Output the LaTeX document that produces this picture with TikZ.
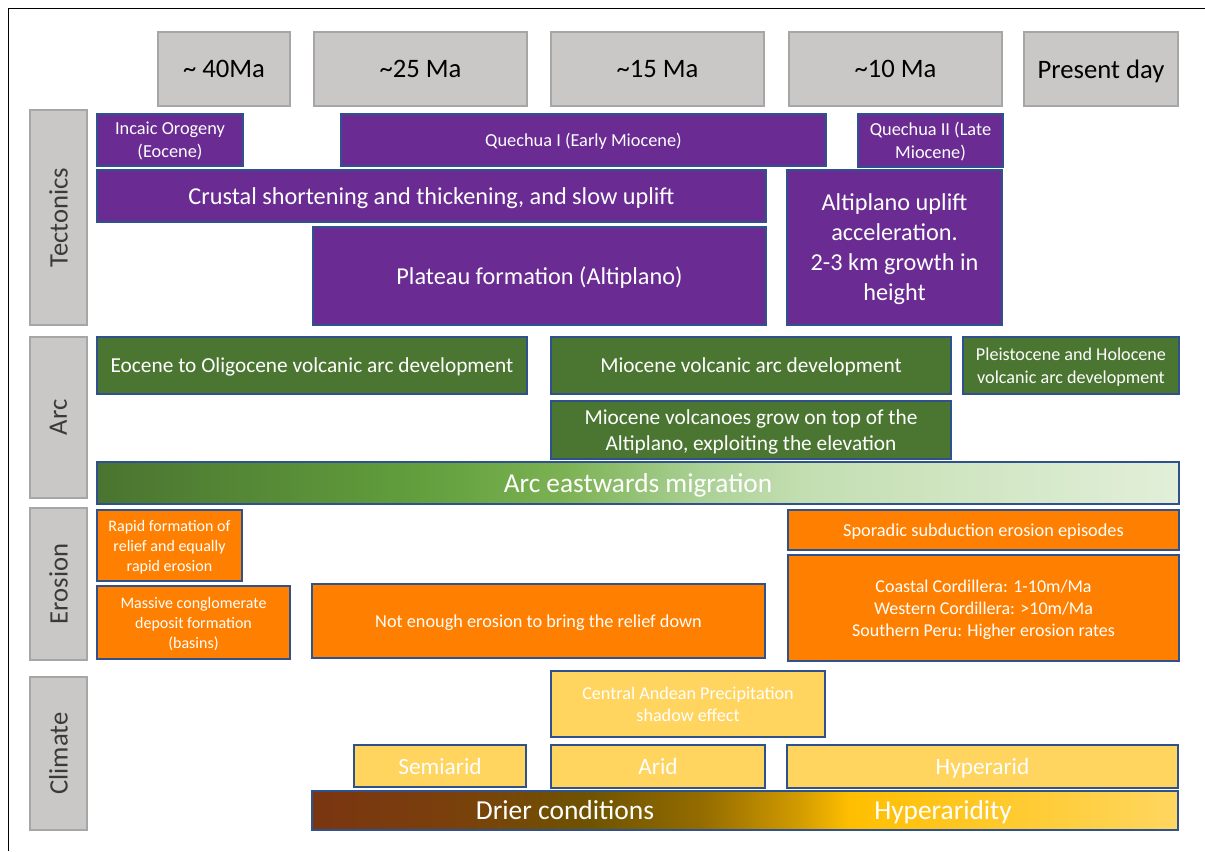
\documentclass[tikz,border=0pt]{standalone}
\usepackage{fontspec}
\setmainfont{Carlito}
\definecolor{purp}{HTML}{6A2B92}
\definecolor{grn}{HTML}{4B7631}
\definecolor{org}{HTML}{FF8000}
\definecolor{yel}{HTML}{FFD45F}
\definecolor{outl}{HTML}{2F528F}
\definecolor{grayF}{HTML}{C9C8C7}
\definecolor{grayB}{HTML}{A6A6A6}
\definecolor{sidetext}{HTML}{3A3A3A}
% arc gradient colours
\definecolor{ga}{HTML}{4A7430}
\definecolor{gb}{HTML}{629F3D}
\definecolor{gc}{HTML}{7BB152}
\definecolor{gd}{HTML}{ABD196}
\definecolor{ge}{HTML}{C3DEB1}
\definecolor{gf}{HTML}{E2EFD9}
% drier gradient colours
\definecolor{da}{HTML}{7A3511}
\definecolor{db}{HTML}{7A400C}
\definecolor{dc}{HTML}{6E5300}
\definecolor{dd}{HTML}{946C00}
\definecolor{de}{HTML}{D09A00}
\definecolor{df}{HTML}{FFBE00}
\definecolor{dg}{HTML}{FFD760}
\pgfdeclarehorizontalshading{arcgrad}{100bp}{color(0bp)=(ga); color(25bp)=(ga); color(40bp)=(gb); color(46.5bp)=(gc); color(53bp)=(gd); color(57.5bp)=(ge); color(75bp)=(gf); color(100bp)=(gf)}
\pgfdeclarehorizontalshading{drygrad}{100bp}{color(0bp)=(da); color(25bp)=(da); color(33bp)=(db); color(41bp)=(dc); color(47.5bp)=(dd); color(53bp)=(de); color(56bp)=(df); color(75bp)=(dg); color(100bp)=(dg)}
\newcommand{\abox}[7]{\node[#1, minimum width={(#5-#3)*0.75pt}, minimum height={(#6-#4)*0.75pt}] (#2) at ({(#3+#5)/2},{(#4+#6)/2}) {#7};}
\newcommand{\sidebox}[7]{\node[#1, minimum width={(#6-#4)*0.75pt}, minimum height={(#5-#3)*0.75pt}] (#2) at ({(#3+#5)/2},{(#4+#6)/2}) {#7};}
\begin{document}
\begin{tikzpicture}[x=0.75pt,y=-0.75pt,
  fs/.style 2 args={font=\fontsize{#1pt}{#2pt}\selectfont},
  bx/.style={draw=outl, line width=0.9pt, inner sep=0pt, align=center, text=white, text depth=0pt},
  tec/.style={bx, fill=purp},
  arcb/.style={bx, fill=grn},
  ero/.style={bx, fill=org},
  cli/.style={bx, fill=yel},
  graybox/.style={draw=grayB, fill=grayF, line width=1pt, inner sep=0pt, fs={20}{24}},
  hdr/.style={graybox, text=black, text depth=0pt},
  sidelab/.style={graybox, text=sidetext, rotate=90}]
\useasboundingbox (0,0) rectangle (1205,851);
% frame
\draw[line width=1.4pt] (8.5,851) -- (8.5,8.5) -- (1205,8.5);
% headers
\abox{hdr}{h40}{158}{32}{290}{106}{\textasciitilde{} 40Ma}
\abox{hdr}{h25}{314}{32}{527}{106}{\textasciitilde25 Ma}
\abox{hdr}{h15}{551}{32}{764}{106}{\textasciitilde15 Ma}
\abox{hdr}{h10}{789}{32}{1002}{106}{\textasciitilde10 Ma}
\abox{hdr}{hpd}{1024}{32}{1178}{106}{Present day}
% side labels
\sidebox{sidelab}{stec}{30}{110}{87}{325}{Tectonics}
\sidebox{sidelab}{sarc}{30}{337}{87}{498}{Arc}
\sidebox{sidelab}{sero}{30}{508}{87}{660}{Erosion}
\sidebox{sidelab}{scli}{30}{677}{87}{830}{Climate}
% tectonics
\abox{tec, fs={13.75}{17.25}}{incaic}{97}{114}{243}{166}{Incaic Orogeny\\(Eocene)}
\abox{tec, fs={13.75}{17.25}}{quech1}{341}{114}{826}{166}{Quechua I (Early Miocene)}
\abox{tec, fs={13.75}{17.25}}{quech2}{858}{114}{1003}{167}{Quechua II (Late\\Miocene)}
\abox{tec, fs={18.2}{22.5}}{crust}{97}{170}{766}{222}{Crustal shortening and thickening, and slow uplift}
\abox{tec, fs={18.2}{22.5}}{plateau}{313}{227}{766}{325}{Plateau formation (Altiplano)}
\abox{tec, fs={18.2}{22.5}}{uplift}{787}{170}{1002}{325}{Altiplano uplift\\acceleration.\\2-3 km growth in\\height}
% arc
\abox{arcb, fs={16}{19}}{eoarc}{97}{337}{527}{394}{Eocene to Oligocene volcanic arc development}
\abox{arcb, fs={16}{19}}{mioarc}{551}{337}{951}{394}{Miocene volcanic arc development}
\abox{arcb, fs={13.6}{17}}{pleist}{963}{337}{1179}{394}{Pleistocene and Holocene\\volcanic arc development}
\abox{arcb, fs={16}{19}}{miovol}{551}{401}{951}{459}{Miocene volcanoes grow on top of the\\Altiplano, exploiting the elevation}
\abox{bx, shade, shading=arcgrad, fs={20.5}{24}}{arcmig}{97}{462}{1179}{504}{Arc eastwards migration}
% erosion
\abox{ero, fs={12}{15}}{rapid}{97}{510}{242}{581}{Rapid formation of\\relief and equally\\rapid erosion}
\abox{ero, fs={12}{15}}{massive}{97}{586}{290}{659}{Massive conglomerate\\deposit formation\\(basins)}
\abox{ero, fs={13.7}{17}}{notenough}{312}{584}{765}{658}{Not enough erosion to bring the relief down}
\abox{ero, fs={13.75}{17}}{sporadic}{788}{510}{1179}{550}{Sporadic subduction erosion episodes}
\abox{ero, fs={13.5}{16.5}}{coastal}{788}{555}{1179}{661}{Coastal Cordillera: 1-10m/Ma\\Western Cordillera: >10m/Ma\\Southern Peru: Higher erosion rates}
% climate
\abox{cli, fs={13.6}{16.5}}{central}{551}{671}{825}{737}{Central Andean Precipitation\\shadow effect}
\abox{cli, fs={17.5}{21}}{semiarid}{354}{745}{526}{787}{Semiarid}
\abox{cli, fs={17.5}{21}}{arid}{551}{745}{765}{788}{Arid}
\abox{cli, fs={17.5}{21}}{hyperarid}{787}{745}{1178}{788}{Hyperarid}
\abox{bx, shade, shading=drygrad}{drier}{312}{791}{1178}{830}{}
\node[fs={20.6}{24}, text=white, inner sep=0pt, text depth=0pt] (drylab) at (565,810) {Drier conditions};
\node[fs={20.5}{24}, text=white, inner sep=0pt, text depth=0pt] (hyplab) at (943,810) {Hyperaridity};
\end{tikzpicture}
\end{document}
